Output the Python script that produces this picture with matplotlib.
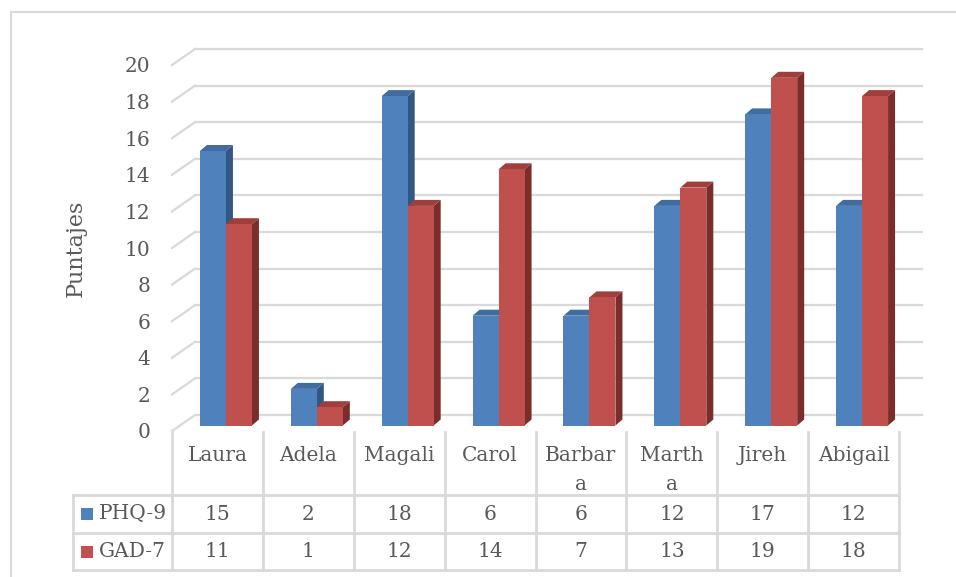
import matplotlib.pyplot as plt
from matplotlib.patches import Polygon, Rectangle
import numpy as np

# datos
nombres = ['Laura', 'Adela', 'Magali', 'Carol', 'Barbar\na', 'Marth\na', 'Jireh', 'Abigail']
phq9 = [15, 2, 18, 6, 6, 12, 17, 12]
gad7 = [11, 1, 12, 14, 7, 13, 19, 18]
series = ['PHQ-9', 'GAD-7']
yticks = list(range(0, 21, 2))

plt.rcParams['font.family'] = ['DejaVu Serif']
txt = '#595959'
grid = '#d9d9d9'
azul = ('#4f81bd', '#345683', '#416c9f')
rojo = ('#c0504d', '#7a2d2b', '#a03e3b')

W, H = 956, 577
fig = plt.figure(figsize=(W / 100, H / 100), dpi=100)

# plano frontal: x -0.5..7.5 -> 172..899 px, y 0..20 -> 431..65 px
x0, x1, yb, yt = 172, 899, 431, 65
ax = fig.add_axes([x0 / W, 1 - yb / H, (x1 - x0) / W, (yb - yt) / H])
ax.set_xlim(-0.5, 7.5)
ax.set_ylim(0, 20)
for s in ax.spines.values():
    s.set_visible(False)
ax.set_xticks([])
ax.set_yticks(yticks)
ax.set_yticklabels([str(v) for v in yticks], fontsize=14.5, color=txt)
ax.tick_params(axis='y', length=0, pad=15.5)
ax.set_ylabel('Puntajes', fontsize=16, color=txt, labelpad=27)

# px -> unidades de datos
px = 8 / (x1 - x0)
py = 20 / (yb - yt)

# pared de fondo y lateral
bdx, bdy = 23 * px, 16 * py
for v in yticks:
    ax.plot([-0.5, -0.5 + bdx], [v, v + bdy], color=grid, lw=1.6, clip_on=False, zorder=0)
    ax.plot([-0.5 + bdx, 7.5 + bdx], [v + bdy, v + bdy], color=grid, lw=1.6, clip_on=False, zorder=0)

# barras 3D
ox, oy = 8.5 * px, 5.5 * py      # plano de las barras
dx, dy = 7 * px, 6 * py          # profundidad
bw = 26 * px


def barra(xl, h, cols, z):
    xl = xl + ox
    y0 = oy
    front = Rectangle((xl, y0), bw, h, fc=cols[0], ec='none', zorder=z, clip_on=False)
    side = Polygon([(xl + bw, y0), (xl + bw + dx, y0 + dy), (xl + bw + dx, y0 + h + dy),
                    (xl + bw, y0 + h)], fc=cols[1], ec='none', zorder=z, clip_on=False)
    top = Polygon([(xl, y0 + h), (xl + bw, y0 + h), (xl + bw + dx, y0 + h + dy),
                   (xl + dx, y0 + h + dy)], fc=cols[2], ec='none', zorder=z, clip_on=False)
    for p in (side, top, front):
        ax.add_patch(p)


for i in range(len(nombres)):
    barra(i - bw, phq9[i], azul, 2 + 2 * i)
    barra(i, gad7[i], rojo, 3 + 2 * i)

# tabla de datos (coordenadas de figura en px)
lw = 2
col_x = np.linspace(x0, x1, len(nombres) + 1)
r0, r1, r2, r3 = 432, 495, 533, 570
leg_x = 73


def hline(xa, xb, y):
    fig.add_artist(plt.Line2D([xa / W, xb / W], [1 - y / H, 1 - y / H], color=grid, lw=lw))


def vline(x, ya, yb_):
    fig.add_artist(plt.Line2D([x / W, x / W], [1 - ya / H, 1 - yb_ / H], color=grid, lw=lw))


for cx in col_x:
    vline(cx, r0, r3)
vline(leg_x, r1, r3)
hline(leg_x, x1, r1)
hline(leg_x, x1, r2)
hline(leg_x, x1, r3)

for i, n in enumerate(nombres):
    cx = (col_x[i] + col_x[i + 1]) / 2
    fig.text(cx / W, 1 - 446 / H, n, ha='center', va='top', fontsize=14.5, color=txt,
             linespacing=1.65)
    fig.text(cx / W, 1 - (r1 + r2) / 2 / H, str(phq9[i]), ha='center', va='center',
             fontsize=14.5, color=txt)
    fig.text(cx / W, 1 - (r2 + r3) / 2 / H, str(gad7[i]), ha='center', va='center',
             fontsize=14.5, color=txt)

for k, (nom, c) in enumerate(zip(series, [azul[0], rojo[0]])):
    yc = (r1 + r2) / 2 if k == 0 else (r2 + r3) / 2
    fig.add_artist(Rectangle((81 / W, 1 - (yc + 6) / H), 12 / W, 12 / H, fc=c, ec='none',
                             transform=fig.transFigure))
    fig.text(99 / W, 1 - yc / H, nom, ha='left', va='center', fontsize=14.5, color=txt)

# borde del gráfico
fig.add_artist(plt.Line2D([11 / W, 11 / W], [0, 1 - 12 / H], color=grid, lw=1.5))
fig.add_artist(plt.Line2D([11 / W, 1], [1 - 12 / H, 1 - 12 / H], color=grid, lw=1.5))

fig.savefig('out.png', dpi=100)
